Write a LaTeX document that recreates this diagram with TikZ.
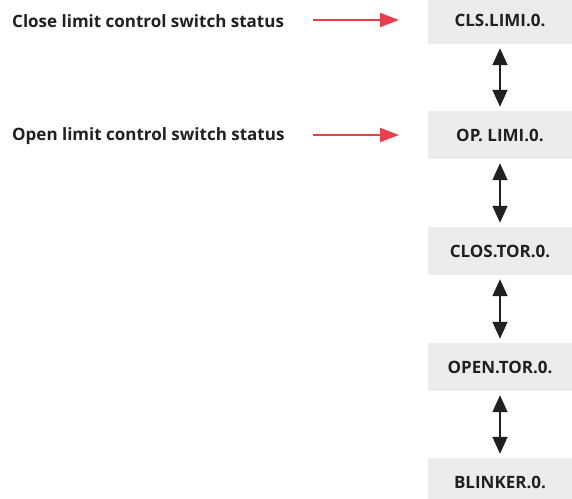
\documentclass[tikz,border=0pt]{standalone}
\usepackage{fontspec}
\setmainfont{Open Sans}
\usetikzlibrary{arrows.meta}
\definecolor{boxgray}{HTML}{EBECEC}
\definecolor{txt}{HTML}{231F20}
\definecolor{redarr}{HTML}{E8404A}
\begin{document}
\begin{tikzpicture}[x=1pt,y=-1pt,
  every node/.style={font=\fontsize{17}{19}\selectfont\bfseries, text=txt},
  statebox/.style={fill=boxgray, minimum width=144pt, minimum height=48pt, inner sep=0pt},
  lbl/.style={anchor=west, inner sep=0pt},
  redlink/.style={draw=redarr, line width=2pt, -{Triangle[length=19pt,width=14pt]}},
  dbl/.style={draw=txt, line width=1.6pt, {Triangle[length=17pt,width=15pt]}-{Triangle[length=17pt,width=15pt]}, shorten <=4pt, shorten >=4pt}]
\useasboundingbox (0,0) rectangle (572,498);
\node[statebox] (b1) at (500,20) {CLS.LIMI.0.};
\node[statebox] (b2) at (500,135) {OP. LIMI.0.};
\node[statebox] (b3) at (500,251) {CLOS.TOR.0.};
\node[statebox] (b4) at (500,367) {OPEN.TOR.0.};
\node[statebox] (b5) at (500,482) {BLINKER.0.};
\node[lbl] (l1) at (12,21) {Close limit control switch status};
\node[lbl] (l2) at (12,136) {Open limit control switch status};
\coordinate (s1) at (313,20);
\coordinate (s2) at (313,135);
\draw[redlink] (s1) -- (b1.west -| 399,0);
\draw[redlink] (s2) -- (b2.west -| 399,0);
\draw[dbl] (b1) -- (b2);
\draw[dbl] (b2) -- (b3);
\draw[dbl] (b3) -- (b4);
\draw[dbl] (b4) -- (b5);
\end{tikzpicture}
\end{document}
